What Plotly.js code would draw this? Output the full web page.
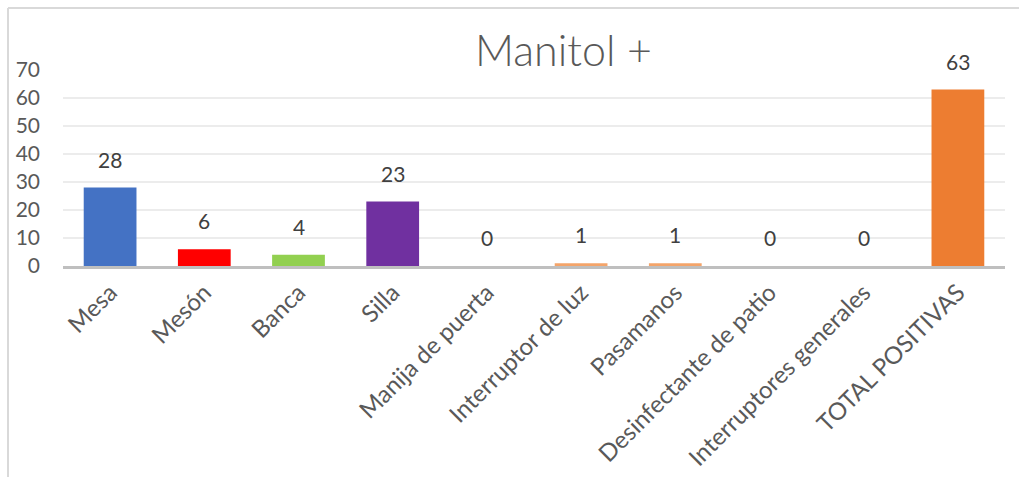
<!DOCTYPE html>
<html>
<head>
<meta charset="utf-8">
<script src="https://cdn.plot.ly/plotly-3.0.1.min.js"></script>
<style>html,body{margin:0;padding:0;background:#fff;}#chart{width:1019px;height:477px;}</style>
</head>
<body>
<div id="chart"></div>
<script>
const categories = ["Mesa", "Mesón", "Banca", "Silla", "Manija de puerta", "Interruptor de luz", "Pasamanos", "Desinfectante de patio", "Interruptores generales", "TOTAL POSITIVAS"];
const values = [28, 6, 4, 23, 0, 1, 1, 0, 0, 63];
const barColors = ["#4472C4", "#FF0000", "#92D050", "#7030A0", "#F4A46A", "#F4A46A", "#F4A46A", "#F4A46A", "#F4A46A", "#ED7D31"];
const yTicks = [0, 10, 20, 30, 40, 50, 60, 70];
const chartTitle = "Manitol +";

const FONT = "Lato, 'Open Sans', sans-serif";

const trace = {
  type: "bar",
  x: categories,
  y: values,
  marker: {color: barColors},
  cliponaxis: false,
  hoverinfo: "x+y"
};

const labelAnnotations = categories.map((c, i) => ({
  x: c,
  y: values[i],
  xref: "x",
  yref: "y",
  text: String(values[i]),
  showarrow: false,
  yanchor: "bottom",
  yshift: 14,
  font: {family: FONT, size: 21, color: "#404040"}
}));

const layout = {
  width: 1019,
  height: 477,
  margin: {l: 63, r: 14, t: 70, b: 211},
  paper_bgcolor: "#ffffff",
  plot_bgcolor: "#ffffff",
  bargap: 0.44,
  showlegend: false,
  title: {
    text: chartTitle,
    font: {family: FONT, size: 43, color: "#595959", weight: 300},
    x: 0.553, xanchor: "center",
    y: 0.862, yanchor: "bottom"
  },
  xaxis: {
    type: "category",
    tickangle: -45,
    tickfont: {family: FONT, size: 24, color: "#595959"},
    showline: true,
    linecolor: "#BFBFBF",
    linewidth: 3,
    ticks: "",
    showgrid: false,
    zeroline: false,
    fixedrange: true
  },
  yaxis: {
    range: [0, 70],
    tickvals: yTicks,
    ticktext: yTicks.map(String),
    tickfont: {family: FONT, size: 21, color: "#595959"},
    showgrid: true,
    gridcolor: "#ECECEC",
    gridwidth: 1.5,
    zeroline: false,
    showline: false,
    ticks: "",
    ticklabelstandoff: 22,
    fixedrange: true
  },
  annotations: labelAnnotations,
  shapes: [
    {type: "line", xref: "paper", yref: "paper", x0: -0.0584, x1: -0.0584, y0: 1.316, y1: -1.1, line: {color: "#D9D9D9", width: 2}},
    {type: "line", xref: "paper", yref: "paper", x0: -0.0584, x1: 1.02, y0: 1.316, y1: 1.316, line: {color: "#D9D9D9", width: 2}}
  ]
};

Plotly.newPlot("chart", [trace], layout, {displayModeBar: false, staticPlot: true});
</script>
</body>
</html>
